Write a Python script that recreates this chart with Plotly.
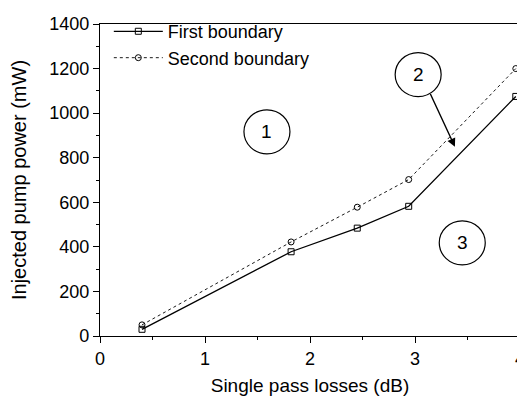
import plotly.graph_objects as go

losses = [0.4, 1.82, 2.45, 2.94, 3.96]
first_boundary = [30, 378, 484, 582, 1075]
second_boundary = [50, 422, 578, 702, 1200]

region_labels = ["1", "2", "3"]
region_x = [1.59, 3.03, 3.45]
region_y = [916, 1173, 418]

FONT = "Liberation Sans, Arial, sans-serif"

fig = go.Figure()
fig.add_trace(go.Scatter(x=losses, y=first_boundary, mode="lines+markers", name="First boundary",
                         line=dict(color="black", width=1.3),
                         marker=dict(symbol="square-open", size=6, color="black", line=dict(width=1))))
fig.add_trace(go.Scatter(x=losses, y=second_boundary, mode="lines+markers", name="Second boundary",
                         line=dict(color="black", width=0.9, dash="dot"),
                         marker=dict(symbol="circle-open", size=6, color="black", line=dict(width=1))))

for lab, cx, cy in zip(region_labels, region_x, region_y):
    fig.add_shape(type="circle", xref="x", yref="y", xsizemode="pixel", ysizemode="pixel",
                  xanchor=cx, yanchor=cy, x0=-23, x1=23, y0=-22, y1=22,
                  line=dict(color="black", width=1.2))
    fig.add_annotation(x=cx, y=cy, text=lab, showarrow=False,
                       font=dict(size=19, color="black", family=FONT))

fig.add_annotation(x=3.38, y=849, ax=3.14, ay=1093, xref="x", yref="y", axref="x", ayref="y",
                   text="", showarrow=True, arrowhead=2, arrowsize=1.2, arrowwidth=1.4, arrowcolor="black",
                   standoff=0)

axis_common = dict(showgrid=False, zeroline=False, showline=True, linecolor="black", linewidth=1.4,
                   mirror=True, ticks="outside", ticklen=6, tickwidth=1.2, tickcolor="black",
                   tickfont=dict(size=18, color="black", family=FONT), ticklabeloverflow="allow",
                   minor=dict(ticks="outside", ticklen=3, tickcolor="black"), automargin=False)

# page body adds an 8px offset, so the figure is sized to end at the window edge
fig.update_layout(
    width=517, height=388,
    margin=dict(l=92, r=5, t=12, b=60),
    plot_bgcolor="white", paper_bgcolor="white",
    font=dict(family=FONT, color="black"),
    showlegend=True,
    legend=dict(x=0.021, y=1.035, xanchor="left", yanchor="top", bgcolor="rgba(0,0,0,0)",
                font=dict(size=18, color="black", family=FONT), tracegroupgap=0, itemwidth=49),
    xaxis=dict(range=[0, 4], dtick=1,
               title=dict(text="Single pass losses (dB)", font=dict(size=19, family=FONT), standoff=12),
               **axis_common),
    yaxis=dict(range=[0, 1400], dtick=200,
               title=dict(text="Injected pump power (mW)", font=dict(size=20, family=FONT), standoff=17),
               **axis_common),
)
fig.update_xaxes(minor=dict(dtick=0.5))
fig.update_yaxes(minor=dict(dtick=100))

fig.write_html("out.html")
